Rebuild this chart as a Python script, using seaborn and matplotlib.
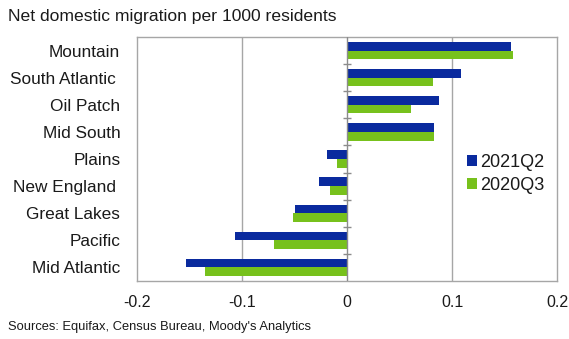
import matplotlib
matplotlib.use("Agg")
import matplotlib.pyplot as plt
import seaborn as sns
import pandas as pd
from matplotlib.patches import Patch

regions = ["Mountain", "South Atlantic ", "Oil Patch", "Mid South", "Plains",
           "New England ", "Great Lakes", "Pacific", "Mid Atlantic"]
series_names = ["2021Q2", "2020Q3"]
vals_2021q2 = [0.156, 0.109, 0.088, 0.083, -0.019, -0.027, -0.050, -0.107, -0.153]
vals_2020q3 = [0.158, 0.082, 0.061, 0.083, -0.010, -0.016, -0.051, -0.070, -0.135]
xticks = [-0.2, -0.1, 0, 0.1, 0.2]
xtick_labels = ["-0.2", "-0.1", "0", "0.1", "0.2"]
title = "Net domestic migration per 1000 residents"
source = "Sources: Equifax, Census Bureau, Moody's Analytics"

df = pd.DataFrame({
    "region": regions * 2,
    "value": vals_2021q2 + vals_2020q3,
    "series": [series_names[0]] * len(regions) + [series_names[1]] * len(regions),
})

sns.set_style("white")
plt.rcParams["font.family"] = ["Liberation Sans", "DejaVu Sans"]

blue = "#0A2A9E"
green = "#77C11C"
grid_c = "#A6A6A6"

fig = plt.figure(figsize=(5.69, 3.39), dpi=100)
ax = fig.add_axes([137 / 569, 1 - 281 / 339, 420 / 569, 244 / 339])

sns.barplot(data=df, y="region", x="value", hue="series", orient="h",
            palette=[blue, green], width=0.64, gap=0, saturation=1,
            order=regions, hue_order=series_names, ax=ax, legend=False,
            linewidth=0)

ax.set_xlim(-0.2, 0.2)
ax.set_ylim(len(regions) - 0.5, -0.5)
ax.set_xticks(xticks)
ax.set_xticklabels(xtick_labels)
ax.set_xlabel("")
ax.set_ylabel("")

for x in [-0.1, 0.1]:
    ax.axvline(x, color=grid_c, lw=1.0, zorder=0)
ax.axvline(0, color="#8C8C8C", lw=1.0, zorder=3)
# small ticks on the zero axis at category boundaries
bounds = [i + 0.5 for i in range(len(regions) - 1)]
ax.plot([0] * len(bounds), bounds, linestyle="none", marker="_",
        markersize=6, color="#8C8C8C", mew=1.0, zorder=3)

for s in ax.spines.values():
    s.set_color(grid_c)
    s.set_linewidth(1.0)
    s.set_visible(True)

ax.tick_params(axis="y", length=0, pad=12, labelsize=12.4, labelcolor="#1A1A1A")
ax.tick_params(axis="x", length=5, width=1.0, color=grid_c, direction="out",
               pad=5, labelsize=11.5, labelcolor="#1A1A1A")

handles = [Patch(facecolor=blue, edgecolor="none"),
           Patch(facecolor=green, edgecolor="none")]
leg = ax.legend(handles, series_names, loc="upper left",
                bbox_to_anchor=(467 / 569, 1 - 154 / 339),
                bbox_transform=fig.transFigure, frameon=False,
                handlelength=0.55, handleheight=0.55, handletextpad=0.2,
                labelspacing=0.35, fontsize=13, borderaxespad=0, borderpad=0)
for t in leg.get_texts():
    t.set_color("#1A1A1A")

fig.text(8 / 569, 1 - 17 / 339, title, fontsize=12.6, ha="left", va="center",
         color="#1A1A1A")
fig.text(8 / 569, 1 - 327 / 339, source, fontsize=9.3, ha="left", va="center",
         color="#1A1A1A")

fig.savefig("out.png", dpi=100)
